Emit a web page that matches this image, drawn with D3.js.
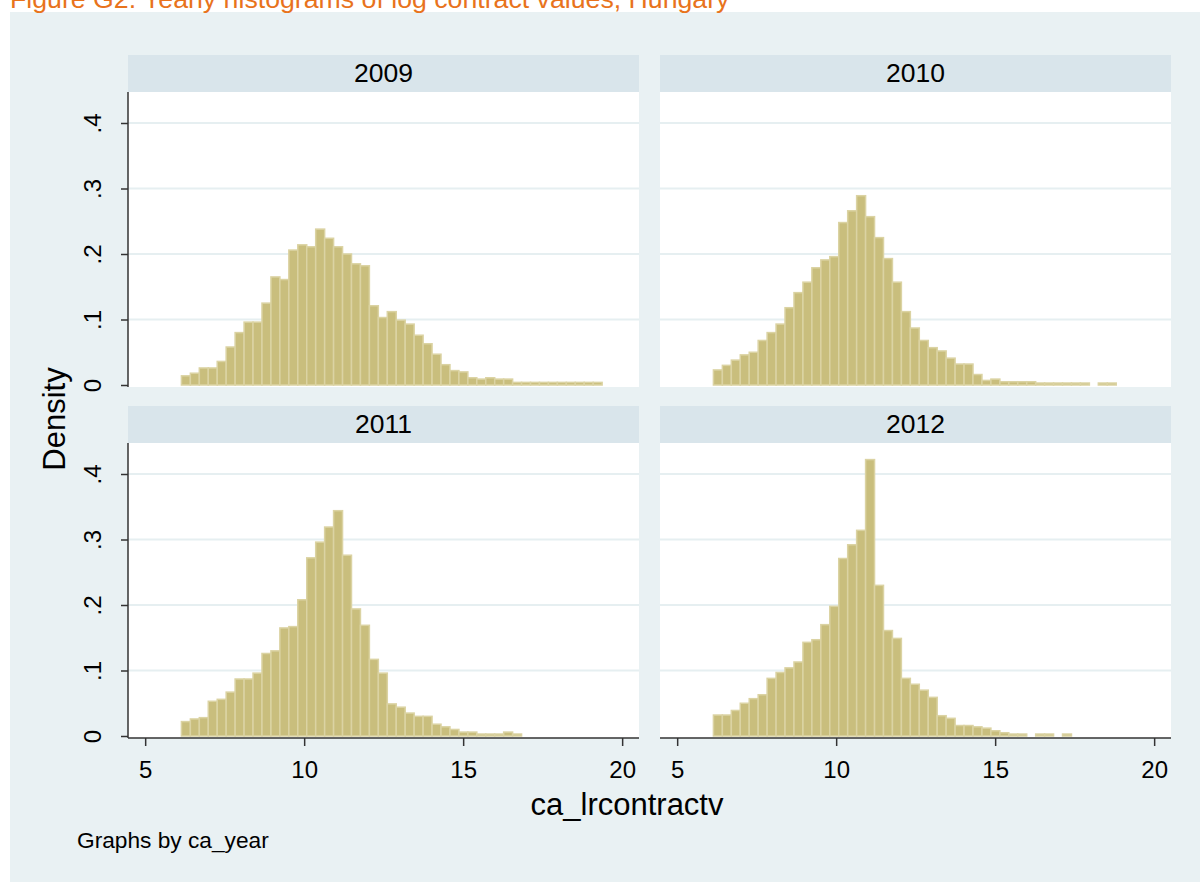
<!DOCTYPE html>
<html>
<head>
<meta charset="utf-8">
<script src="https://cdn.jsdelivr.net/npm/d3@7"></script>
<style>
  body { margin: 0; background: #ffffff; }
  svg text { font-family: 'Liberation Sans', Arial, sans-serif; }
</style>
</head>
<body>
<div id="chart"></div>
<script>
// Histogram data (density per bin)
var years = ['2009', '2010', '2011', '2012'];
var binStart = 6.14;
var binWidth = 0.2815;

var density2009 = [0.014,0.018,0.026,0.026,0.036,0.058,0.080,0.096,0.096,0.125,
                   0.165,0.161,0.206,0.214,0.211,0.238,0.224,0.211,0.200,0.185,
                   0.182,0.121,0.103,0.112,0.099,0.093,0.076,0.063,0.047,0.031,
                   0.022,0.020,0.011,0.009,0.011,0.009,0.009,0.004,0.004,0.004,
                   0.004,0.004,0.004,0.004,0.004,0.004,0.004];
var density2010 = [0.023,0.030,0.038,0.046,0.050,0.068,0.080,0.093,0.118,0.141,
                   0.157,0.179,0.191,0.196,0.248,0.266,0.289,0.257,0.225,0.193,
                   0.157,0.112,0.087,0.068,0.057,0.052,0.041,0.032,0.032,0.016,
                   0.007,0.009,0.005,0.005,0.005,0.005,0.003,0.003,0.003,0.003,
                   0.003,0.003,0,0.003,0.003];
var density2011 = [0.022,0.026,0.028,0.053,0.056,0.067,0.087,0.087,0.096,0.126,
                   0.130,0.165,0.167,0.208,0.272,0.296,0.319,0.344,0.276,0.194,
                   0.169,0.117,0.096,0.049,0.044,0.035,0.030,0.030,0.018,0.014,
                   0.010,0.006,0.006,0.003,0.003,0.003,0.006,0.003];
var density2012 = [0.032,0.032,0.039,0.050,0.057,0.063,0.088,0.097,0.104,0.113,
                   0.143,0.147,0.170,0.198,0.271,0.292,0.314,0.422,0.230,0.161,
                   0.149,0.088,0.079,0.070,0.059,0.031,0.027,0.016,0.016,0.014,
                   0.012,0.008,0.005,0.003,0.003,0,0.003,0.003,0,0.003];

var yTicks = [0, 0.1, 0.2, 0.3, 0.4];
var yTickLabels = ['0', '.1', '.2', '.3', '.4'];
var xTicks = [5, 10, 15, 20];

var titleText = 'Figure G2. Yearly histograms of log contract values, Hungary';
var xTitle = 'ca_lrcontractv';
var yTitle = 'Density';
var noteText = 'Graphs by ca_year';

var allDensity = [density2009, density2010, density2011, density2012];

// Layout
var svgWidth = 1200, svgHeight = 882;
var panelLeft = [128, 660];
var rowTop = [55, 406];
var panelW = 511, stripH = 37, plotH = 295;

var svg = d3.select('#chart')
    .append('svg')
        .attr('width', svgWidth)
        .attr('height', svgHeight);

// Graph region background
svg.append('rect')
    .attr('x', 10).attr('y', 12)
    .attr('width', svgWidth - 10).attr('height', svgHeight - 12)
    .attr('fill', '#e9f1f3');

// Title (cut at top as in the source)
svg.append('text')
    .attr('x', 10)
    .attr('y', 8)
    .attr('fill', '#e8731c')
    .style('font-size', '26.7px')
    .text(titleText);

var xScale = d3.scaleLinear()
    .domain([4.46, 20.53])
    .range([0, panelW]);

var yScale = d3.scaleLinear()
    .domain([0, 0.4])
    .range([plotH - 2, plotH - 2 - 262]);

years.forEach(function(year, i) {
    var col = i % 2, row = Math.floor(i / 2);
    var data = allDensity[i].map(function(d, k) {
        return { x0: binStart + k * binWidth, x1: binStart + (k + 1) * binWidth, y: d };
    });

    var g = svg.append('g')
        .attr('transform', 'translate(' + panelLeft[col] + ',' + rowTop[row] + ')');

    // header strip
    g.append('rect')
        .attr('width', panelW).attr('height', stripH)
        .attr('fill', '#d9e5eb');
    g.append('text')
        .attr('x', panelW / 2)
        .attr('y', stripH / 2 - 1)
        .attr('dy', '0.36em')
        .attr('text-anchor', 'middle')
        .style('font-size', '26.5px')
        .text(year);

    var plot = g.append('g')
        .attr('transform', 'translate(0,' + stripH + ')');

    plot.append('rect')
        .attr('width', panelW).attr('height', plotH)
        .attr('fill', '#ffffff');

    // grid lines
    plot.selectAll('.grid')
        .data(yTicks.slice(1))
        .enter()
        .append('line')
            .attr('x1', 0).attr('x2', panelW)
            .attr('y1', function(d) { return yScale(d); })
            .attr('y2', function(d) { return yScale(d); })
            .attr('stroke', '#e6eff1')
            .attr('stroke-width', 2);

    // bars
    plot.selectAll('.bar')
        .data(data.filter(function(d) { return d.y > 0; }))
        .enter()
        .append('rect')
            .attr('x', function(d) { return xScale(d.x0); })
            .attr('y', function(d) { return yScale(d.y); })
            .attr('width', function(d) { return xScale(d.x1) - xScale(d.x0); })
            .attr('height', function(d) { return yScale(0) - yScale(d.y); })
            .attr('fill', '#c9be7d')
            .attr('stroke', '#dbd3a3')
            .attr('stroke-width', 1.5);

    // y axis on left column
    if (col === 0) {
        var yAxis = plot.append('g')
            .call(d3.axisLeft(yScale).tickValues(yTicks).tickSize(7)
                .tickFormat(function(d, k) { return yTickLabels[k]; }));
        yAxis.select('.domain')
            .attr('d', 'M0,0V' + plotH)
            .attr('stroke', '#333')
            .attr('stroke-width', 1.5);
        yAxis.selectAll('.tick line').attr('stroke', '#333').attr('stroke-width', 1.5);
        yAxis.selectAll('.tick text')
            .attr('transform', 'rotate(-90)')
            .attr('x', 0)
            .attr('y', -27)
            .attr('dy', 0)
            .attr('text-anchor', 'middle')
            .attr('fill', '#000')
            .style('font-size', '24px')
            .style('font-family', "'Liberation Sans', Arial, sans-serif");
    }

    // x axis on bottom row
    if (row === 1) {
        var xAxis = plot.append('g')
            .attr('transform', 'translate(0,' + plotH + ')')
            .call(d3.axisBottom(xScale).tickValues(xTicks).tickSize(8).tickPadding(15));
        xAxis.select('.domain')
            .attr('d', 'M0,0H' + panelW)
            .attr('stroke', '#333')
            .attr('stroke-width', 1.5);
        xAxis.selectAll('.tick line').attr('stroke', '#333').attr('stroke-width', 1.5);
        xAxis.selectAll('.tick text')
            .attr('fill', '#000')
            .style('font-size', '24px')
            .style('font-family', "'Liberation Sans', Arial, sans-serif");
    }
});

// Axis titles and note
svg.append('text')
    .attr('transform', 'translate(65,419) rotate(-90)')
    .attr('text-anchor', 'middle')
    .style('font-size', '31px')
    .text(yTitle);

svg.append('text')
    .attr('x', 627)
    .attr('y', 815)
    .attr('text-anchor', 'middle')
    .style('font-size', '31px')
    .text(xTitle);

svg.append('text')
    .attr('x', 77)
    .attr('y', 848)
    .style('font-size', '22.7px')
    .text(noteText);
</script>
</body>
</html>
